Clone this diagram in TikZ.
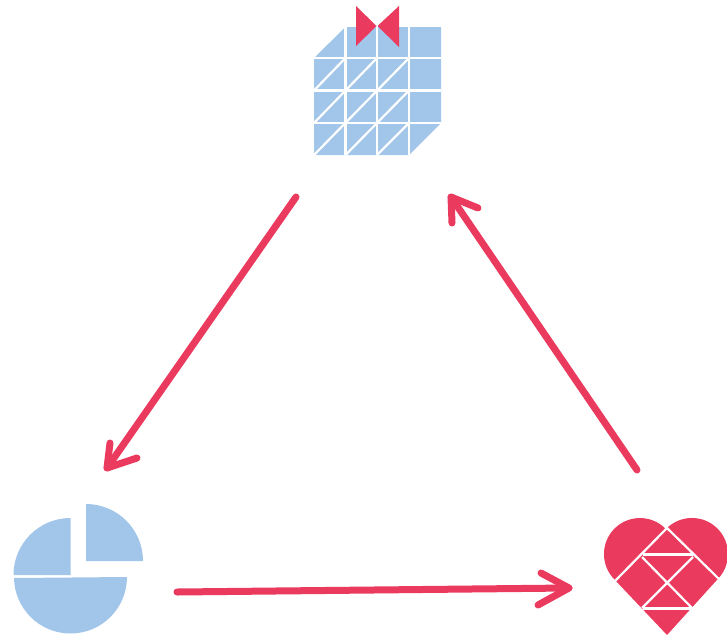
\documentclass[tikz,border=0pt]{standalone}
\definecolor{skyb}{HTML}{A1C6EA}
\definecolor{rosy}{HTML}{EA3A5E}
\tikzset{
  fillblue/.style={fill=skyb,draw=none},
  fillred/.style={fill=rosy,draw=none},
  cutline/.style={draw=white,line width=2.2pt,line cap=butt},
  flow/.style={draw=rosy,line width=7pt,line cap=round,line join=round},
}
\begin{document}
\begin{tikzpicture}[x=1pt,y=-1pt]
\useasboundingbox (0,0) rectangle (727,637);
% building
\fill[fillblue] (345.5,27) -- (441,27) -- (441,123) -- (409,155) -- (314,155) -- (314,58) -- cycle;
\foreach \a/\b/\c/\d in {345.5/27/345.5/155, 377/27/377/155, 409/27/409/155,
  314/58/441/58, 314/90.5/441/90.5, 314/123/441/123,
  314/90.5/345.5/58, 314/123/377/58, 314/155/409/58, 345.5/155/409/90.5, 377/155/409/123}
  \draw[cutline] (\a,\b) -- (\c,\d);
\fill[fillred] (356,6) -- (376.5,26) -- (356,46) -- cycle;
\fill[fillred] (399,6) -- (377.5,26) -- (399,47) -- cycle;
% pie
\fill[fillblue] (70.5,518) arc[start angle=-90,end angle=-180,radius=57] -- (70.5,575) -- cycle;
\fill[fillblue] (86,504) arc[start angle=-90,end angle=0,radius=57] -- (86,561) -- cycle;
\fill[fillblue] (14,578) -- (127,577) arc[start angle=0,end angle=180,radius=56.5] -- cycle;
% heart
\fill[fillred] (667,635) -- (614.5,579.5) arc[start angle=135,end angle=315,radius=36]
  -- (666.5,528.5) arc[start angle=225,end angle=405,radius=36] -- cycle;
\draw[cutline] (615,581) -- (667,528) -- (721,581);
\draw[cutline] (642,557) -- (692,608);
\draw[cutline] (693,557) -- (642,608);
\draw[cutline] (643,554.5) -- (693,554.5);
\draw[cutline] (643,608.5) -- (692,608.5);
% arrows
\coordinate (a1) at (296,197); \coordinate (b1) at (107,468);
\coordinate (a2) at (177,592); \coordinate (b2) at (569,588);
\coordinate (a3) at (637,470); \coordinate (b3) at (451,197);
\draw[flow] (a1) -- (b1);
\draw[flow] (110,443) -- (b1) -- (137,458);
\draw[flow] (a2) -- (b2);
\draw[flow] (541,573) -- (b2) -- (538,605);
\draw[flow] (a3) -- (b3);
\draw[flow] (452,223) -- (b3) -- (478,208);
\end{tikzpicture}
\end{document}
